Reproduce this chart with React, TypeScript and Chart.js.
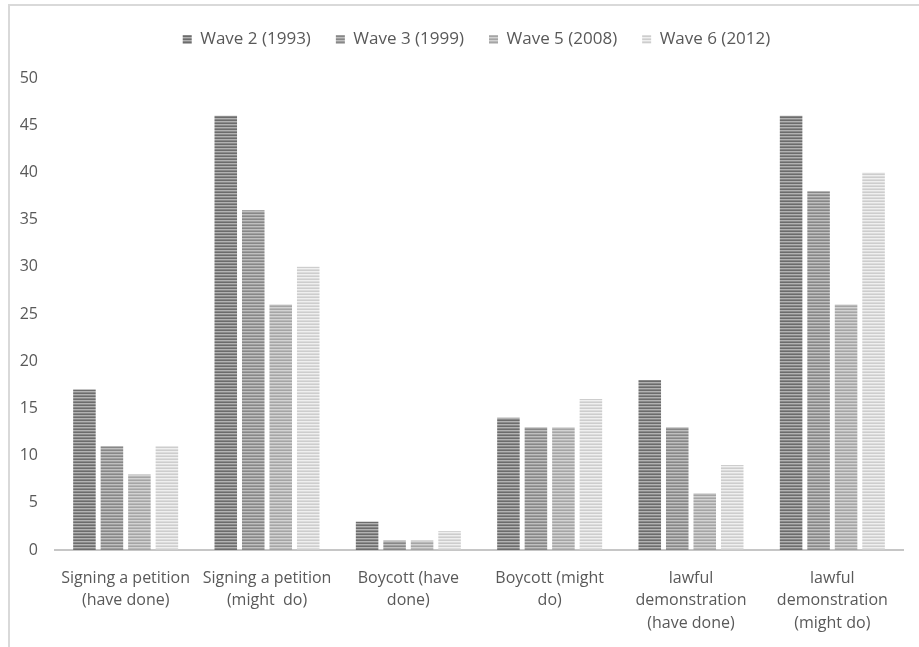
import React, { useEffect, useRef } from 'react';
import { Chart, registerables } from 'chart.js';

Chart.register(...registerables);

// Categories (multi-line axis labels)
const categories: string[][] = [
  ['Signing a petition', '(have done)'],
  ['Signing a petition', '(might  do)'],
  ['Boycott (have', 'done)'],
  ['Boycott (might', 'do)'],
  ['lawful', 'demonstration', '(have done)'],
  ['lawful', 'demonstration', '(might do)'],
];

const seriesNames = ['Wave 2 (1993)', 'Wave 3 (1999)', 'Wave 5 (2008)', 'Wave 6 (2012)'];

// Percentages per category
const wave2 = [17, 46, 3, 14, 18, 46];
const wave3 = [11, 36, 1, 13, 13, 38];
const wave5 = [8, 26, 1, 13, 6, 26];
const wave6 = [11, 30, 2, 16, 9, 40];

const yMin = 0;
const yMax = 50;
const yStep = 5;

// Horizontal stripe shades for each series (one row per pixel)
const stripeShades: string[][] = [
  ['#6c6c6c', '#b2b2b2', '#8a8a8a'],
  ['#878787', '#bfbfbf', '#9f9f9f'],
  ['#a5a5a5', '#d2d2d2', '#b9b9b9'],
  ['#cdcdcd', '#efefef', '#dcdcdc'],
];

const textColor = '#595959';
const fontFamily = '"Open Sans", "DejaVu Sans", sans-serif';

function makeStripes(rows: string[]): CanvasPattern | string {
  const c = document.createElement('canvas');
  c.width = 4;
  c.height = rows.length;
  const ctx = c.getContext('2d');
  if (!ctx) return rows[0];
  rows.forEach((col, i) => {
    ctx.fillStyle = col;
    ctx.fillRect(0, i, 4, 1);
  });
  return ctx.createPattern(c, 'repeat') || rows[0];
}

// Extra room between the legend and the plot, and legend centred over the plot area
const legendPlacement = {
  id: 'legendPlacement',
  beforeInit(chart: any) {
    const legend = chart.legend;
    if (!legend) return;
    const fit = legend.fit;
    legend.fit = function () {
      fit.call(this);
      this.height += 20;
    };
  },
  afterLayout(chart: any) {
    const legend = chart.legend;
    if (!legend) return;
    legend.left = chart.chartArea.left - 5;
  },
};

export default function App() {
  const canvasRef = useRef<HTMLCanvasElement | null>(null);

  useEffect(() => {
    const canvas = canvasRef.current;
    if (!canvas) return;
    const values = [wave2, wave3, wave5, wave6];
    const chart = new Chart(canvas, {
      type: 'bar',
      data: {
        labels: categories,
        datasets: values.map((v, i) => {
          const fill = makeStripes(stripeShades[i]);
          return {
            label: seriesNames[i],
            data: v,
            backgroundColor: fill,
            borderWidth: 0,
            categoryPercentage: 0.778,
            barPercentage: 0.82,
          };
        }),
      },
      options: {
        responsive: false,
        animation: false,
        layout: { padding: { top: 6, left: 0, right: 55, bottom: 0 } },
        plugins: {
          tooltip: { enabled: false },
          legend: {
            position: 'top',
            labels: {
              color: textColor,
              font: { family: fontFamily, size: 17 },
              boxWidth: 9,
              boxHeight: 9,
              padding: 25,
            },
          },
        },
        scales: {
          x: {
            grid: { display: false, drawTicks: false },
            border: { display: true, color: '#c6c6c6', width: 2 },
            ticks: {
              color: textColor,
              font: { family: fontFamily, size: 16, lineHeight: 1.4 },
              padding: 17,
              maxRotation: 0,
              autoSkip: false,
            },
            afterFit(scale: any) {
              scale.height = 97;
            },
          },
          y: {
            min: yMin,
            max: yMax,
            grid: { display: false, drawTicks: false },
            border: { display: false },
            ticks: {
              stepSize: yStep,
              color: textColor,
              font: { family: fontFamily, size: 16 },
              padding: 17,
            },
            afterFit(scale: any) {
              scale.width = 55;
            },
          },
        },
      },
      plugins: [legendPlacement],
    });
    return () => chart.destroy();
  }, []);

  return (
    <div
      style={{
        position: 'fixed',
        left: 0,
        top: 0,
        width: 919,
        height: 647,
        overflow: 'hidden',
        background: '#ffffff',
      }}
    >
      <div
        style={{
          position: 'absolute',
          left: 8,
          top: 4,
          width: 1000,
          height: 700,
          borderTop: '2px solid #d9d9d9',
          borderLeft: '2px solid #d9d9d9',
        }}
      />
      <canvas
        ref={canvasRef}
        width={958}
        height={647}
        style={{ position: 'absolute', left: 0, top: 0, width: 958, height: 647 }}
      />
    </div>
  );
}
